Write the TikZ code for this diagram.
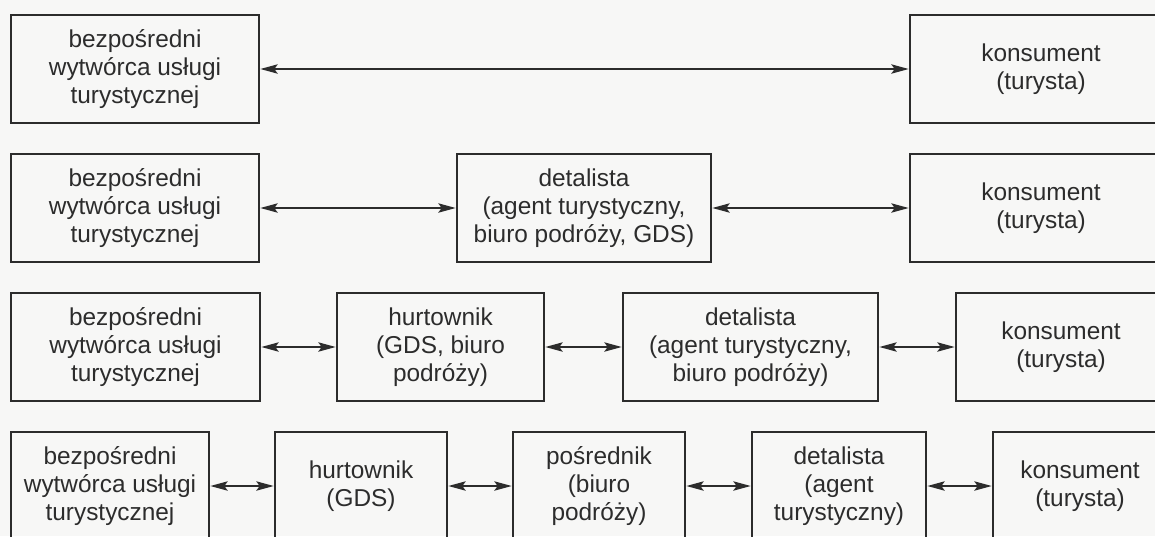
\documentclass[tikz,border=0pt]{standalone}
\usepackage{fontspec}
\setmainfont{Liberation Sans}
\usetikzlibrary{arrows.meta}
\definecolor{paper}{RGB}{247,247,246}
\definecolor{ink}{RGB}{44,44,44}
\definecolor{txt}{RGB}{44,44,44}
\tikzset{
  box/.style={draw=ink, line width=2pt, inner sep=0pt,
    align=center, text=txt, font=\fontsize{18.3pt}{21pt}\selectfont},
  link/.style={draw=ink, line width=1.3pt, {Stealth[length=13pt,width=7pt,inset=2.5pt]}-{Stealth[length=13pt,width=7pt,inset=2.5pt]}}
}
\begin{document}
\begin{tikzpicture}[x=0.75pt, y=-0.75pt]
  \fill[paper] (0,0) rectangle (1155,536);
  \useasboundingbox (0,0) rectangle (1155,536);
  \clip (0,0) rectangle (1155,536);

  % row 1: direct sale
  \node[box, minimum width=186pt, minimum height=81pt] (a1) at (135,69)
    {bezpośredni\\wytwórca usługi\\turystycznej};
  \node[box, minimum width=196.5pt, minimum height=81pt] (k1) at (1041,69)
    {konsument\\(turysta)};
  \draw[link] (a1) -- (k1);

  % row 2: through a retailer
  \node[box, minimum width=186pt, minimum height=81pt] (a2) at (135,208)
    {bezpośredni\\wytwórca usługi\\turystycznej};
  \node[box, minimum width=190.5pt, minimum height=81pt] (d2) at (584,208)
    {detalista\\(agent turystyczny,\\biuro podróży, GDS)};
  \node[box, minimum width=196.5pt, minimum height=81pt] (k2) at (1041,208)
    {konsument\\(turysta)};
  \draw[link] (a2) -- (d2);
  \draw[link] (d2) -- (k2);

  % row 3: wholesaler and retailer
  \node[box, minimum width=186.75pt, minimum height=81pt] (a3) at (135.5,347)
    {bezpośredni\\wytwórca usługi\\turystycznej};
  \node[box, minimum width=155.25pt, minimum height=81pt] (h3) at (440.5,347)
    {hurtownik\\(GDS, biuro\\podróży)};
  \node[box, minimum width=191.25pt, minimum height=81pt] (d3) at (750.5,347)
    {detalista\\(agent turystyczny,\\biuro podróży)};
  \node[box, minimum width=157.5pt, minimum height=81pt] (k3) at (1061,347)
    {konsument\\(turysta)};
  \draw[link] (a3) -- (h3);
  \draw[link] (h3) -- (d3);
  \draw[link] (d3) -- (k3);

  % row 4: wholesaler, intermediary and retailer
  \node[box, minimum width=148.5pt, minimum height=81pt] (a4) at (110,486)
    {bezpośredni\\wytwórca usługi\\turystycznej};
  \node[box, minimum width=129pt, minimum height=81pt] (h4) at (361,486)
    {hurtownik\\(GDS)};
  \node[box, minimum width=129pt, minimum height=81pt] (p4) at (599,486)
    {pośrednik\\(biuro\\podróży)};
  \node[box, minimum width=130.5pt, minimum height=81pt] (d4) at (839,486)
    {detalista\\(agent\\turystyczny)};
  \node[box, minimum width=130.5pt, minimum height=81pt] (k4) at (1080,486)
    {konsument\\(turysta)};
  \draw[link] (a4) -- (h4);
  \draw[link] (h4) -- (p4);
  \draw[link] (p4) -- (d4);
  \draw[link] (d4) -- (k4);
\end{tikzpicture}
\end{document}
